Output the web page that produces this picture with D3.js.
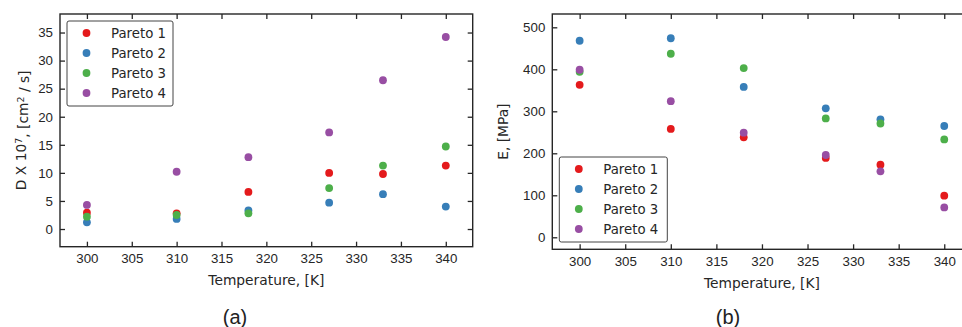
<!DOCTYPE html>
<html lang="en">
<head>
  <meta charset="UTF-8">
  <title>Pareto fronts vs temperature</title>
  <script src="https://d3js.org/d3.v7.min.js"></script>
  <style>
    html, body {
      margin: 0;
      background: #fff;
    }
    svg {
      display: block;
      font-family: "DejaVu Sans", sans-serif;
    }
    .tick text {
      font-size: 13.3px;
      fill: #262626;
    }
    .tick line {
      stroke: #262626;
      stroke-width: 1.3;
    }
    .axis-label {
      font-size: 13.8px;
      fill: #262626;
    }
    .legend-text {
      font-size: 13.3px;
      fill: #262626;
    }
    .panel-label {
      font-family: "Liberation Sans", "Open Sans", sans-serif;
      font-size: 20px;
      fill: #222;
    }
  </style>
</head>
<body>
  <div id="chart"></div>

  <script>
    // temperatures shared by both panels
    const temps = [300, 310, 318, 327, 333, 340];
    const seriesNames = ["Pareto 1", "Pareto 2", "Pareto 3", "Pareto 4"];
    const seriesColors = ["#e41a1c", "#377eb8", "#4daf4a", "#984ea3"];
    const xTicks = [300, 305, 310, 315, 320, 325, 330, 335, 340];

    // (a) diffusion coefficient D x 10^7
    const dPareto1 = [2.9, 2.8, 6.6, 10.0, 9.8, 11.3];
    const dPareto2 = [1.2, 1.8, 3.3, 4.7, 6.2, 4.0];
    const dPareto3 = [2.2, 2.5, 2.8, 7.3, 11.3, 14.7];
    const dPareto4 = [4.3, 10.2, 12.8, 17.2, 26.5, 34.2];
    const dTicks = [0, 5, 10, 15, 20, 25, 30, 35];

    // (b) modulus E in MPa
    const ePareto1 = [363, 258, 238, 189, 173, 99];
    const ePareto2 = [468, 474, 358, 307, 281, 265];
    const ePareto3 = [394, 437, 403, 283, 271, 233];
    const ePareto4 = [399, 324, 249, 196, 157, 71];
    const eTicks = [0, 100, 200, 300, 400, 500];

    const W = 962, H = 327;

    const svg = d3.select("#chart")
      .append("svg")
      .attr("width", W)
      .attr("height", H);

    function drawPanel(opts) {
      const { left, top, right, bottom, yDomain, yTicks, series, yLabel, yLabelX, legendPos, tag, tagX } = opts;

      const x = d3.scaleLinear().domain([297, 343]).range([left, right]);
      const y = d3.scaleLinear().domain(yDomain).range([bottom, top]);

      const g = svg.append("g");

      // points, drawn in series order so purple sits on top
      series.forEach((vals, i) => {
        g.selectAll(null)
          .data(vals.map((v, j) => ({ t: temps[j], v })))
          .enter()
          .append("circle")
          .attr("cx", d => x(d.t))
          .attr("cy", d => y(d.v))
          .attr("r", 3.9)
          .attr("fill", seriesColors[i]);
      });

      // axes, ticks pointing inward on all four sides
      g.append("g")
        .attr("transform", `translate(0,${bottom})`)
        .call(d3.axisBottom(x).tickValues(xTicks).tickSizeInner(-5).tickSizeOuter(0).tickPadding(7))
        .call(a => a.select(".domain").remove());

      g.append("g")
        .attr("transform", `translate(0,${top})`)
        .call(d3.axisTop(x).tickValues(xTicks).tickSizeInner(-5).tickSizeOuter(0).tickFormat(""))
        .call(a => a.select(".domain").remove());

      g.append("g")
        .attr("transform", `translate(${left},0)`)
        .call(d3.axisLeft(y).tickValues(yTicks).tickSizeInner(-5).tickSizeOuter(0).tickPadding(7))
        .call(a => a.select(".domain").remove());

      g.append("g")
        .attr("transform", `translate(${right},0)`)
        .call(d3.axisRight(y).tickValues(yTicks).tickSizeInner(-5).tickSizeOuter(0).tickFormat(""))
        .call(a => a.select(".domain").remove());

      g.selectAll(".tick text").attr("font-family", null).attr("font-size", null);

      // frame
      g.append("rect")
        .attr("x", left)
        .attr("y", top)
        .attr("width", right - left)
        .attr("height", bottom - top)
        .attr("fill", "none")
        .attr("stroke", "#262626")
        .attr("stroke-width", 1.4);

      // axis labels
      g.append("text")
        .attr("class", "axis-label")
        .attr("x", x(320))
        .attr("y", bottom + 38.5)
        .attr("text-anchor", "middle")
        .text("Temperature, [K]");

      const yl = g.append("text")
        .attr("class", "axis-label")
        .attr("transform", `translate(${yLabelX},${(top + bottom) / 2}) rotate(-90)`)
        .attr("text-anchor", "middle");
      yLabel(yl);

      // legend
      const lg = g.append("g").attr("transform", `translate(${legendPos[0]},${legendPos[1]})`);
      lg.append("rect")
        .attr("width", legendPos[2])
        .attr("height", 85)
        .attr("rx", 2)
        .attr("fill", "#fff")
        .attr("stroke", "#444")
        .attr("stroke-width", 1);
      seriesNames.forEach((name, i) => {
        lg.append("circle")
          .attr("cx", 19.5)
          .attr("cy", 12 + i * 20)
          .attr("r", 3.9)
          .attr("fill", seriesColors[i]);
        lg.append("text")
          .attr("class", "legend-text")
          .attr("x", 44)
          .attr("y", 12 + i * 20)
          .attr("dy", "0.36em")
          .text(name);
      });

      svg.append("text")
        .attr("class", "panel-label")
        .attr("x", tagX)
        .attr("y", 324)
        .attr("text-anchor", "middle")
        .text(tag);
    }

    drawPanel({
      left: 60, top: 14, right: 472.7, bottom: 246.7,
      yDomain: [-3.15, 38.3],
      yTicks: dTicks,
      series: [dPareto1, dPareto2, dPareto3, dPareto4],
      yLabelX: 26,
      yLabel: t => {
        t.append("tspan").text("D X 10");
        t.append("tspan").attr("dy", "-0.4em").attr("font-size", "9.5px").text("7");
        t.append("tspan").attr("dy", "0.4em").text(", [cm");
        t.append("tspan").attr("dy", "-0.4em").attr("font-size", "9.5px").text("2");
        t.append("tspan").attr("dy", "0.4em").text(" / s]");
      },
      legendPos: [67, 21, 106],
      tag: "(a)",
      tagX: 235
    });

    drawPanel({
      left: 552.3, top: 14, right: 971.6, bottom: 249.3,
      yDomain: [-28.6, 531.7],
      yTicks: eTicks,
      series: [ePareto1, ePareto2, ePareto3, ePareto4],
      yLabelX: 508,
      yLabel: t => t.text("E, [MPa]"),
      legendPos: [559.3, 157, 108],
      tag: "(b)",
      tagX: 728
    });
  </script>
</body>
</html>
